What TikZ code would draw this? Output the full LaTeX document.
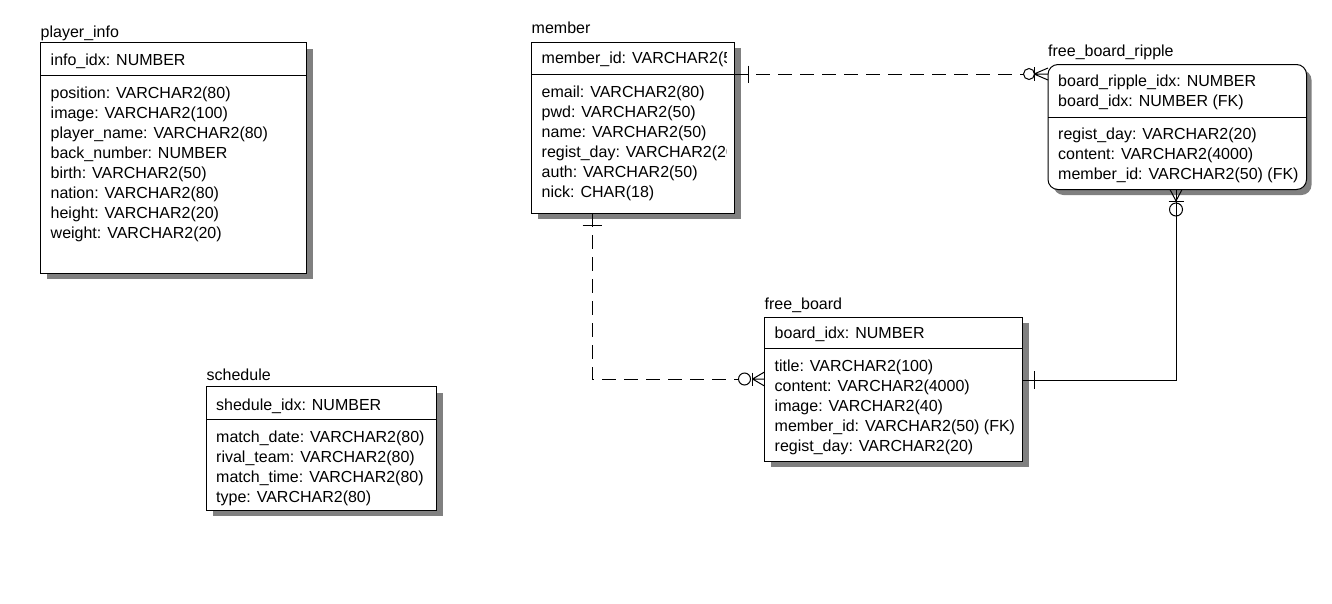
\documentclass[tikz,border=0pt]{standalone}
\usepackage{fontspec}
\setmainfont{Liberation Sans}
\usetikzlibrary{calc}
\begin{document}
\begin{tikzpicture}[x=1pt,y=-1pt,
  txt/.style={anchor=base west,inner sep=0pt,font=\fontsize{16}{20}\selectfont},
  ent/.style={draw,line width=1pt,fill=white,anchor=north west,inner sep=0pt,outer sep=0pt},
  shadowfill/.style={fill=black!50},
  sepline/.style={line width=1pt},
  rel/.style={line width=1pt},
  reldash/.style={line width=1pt,dash pattern=on 14pt off 8pt},
  ringw/.style={line width=1pt,fill=white},
  ring/.style={line width=1pt}]
\useasboundingbox (0,0) rectangle (1332,603);

% ---------- player_info ----------
\fill[shadowfill] (46.5,48.5) rectangle (312.5,279);
\node[ent,minimum width=266pt,minimum height=230.5pt] (pinfo) at (40.5,42.5) {};
\draw[sepline] (pinfo.west |- 0,75.5) -- (pinfo.east |- 0,75.5);
\node[txt] (pinfo-t) at (40.5,37) {player\_info};
\node[txt] (pinfo-k) at (50.5,65) {info\_idx: NUMBER};
\node[txt] (pinfo-a1) at (50.5,98) {position: VARCHAR2(80)};
\node[txt] (pinfo-a2) at (50.5,118) {image: VARCHAR2(100)};
\node[txt] (pinfo-a3) at (50.5,138) {player\_name: VARCHAR2(80)};
\node[txt] (pinfo-a4) at (50.5,158) {back\_number: NUMBER};
\node[txt] (pinfo-a5) at (50.5,178) {birth: VARCHAR2(50)};
\node[txt] (pinfo-a6) at (50.5,198) {nation: VARCHAR2(80)};
\node[txt] (pinfo-a7) at (50.5,218) {height: VARCHAR2(20)};
\node[txt] (pinfo-a8) at (50.5,238) {weight: VARCHAR2(20)};

% ---------- member ----------
\fill[shadowfill] (537.5,48) rectangle (741,218.5);
\node[ent,minimum width=202.5pt,minimum height=171pt] (member) at (531.5,42) {};
\draw[sepline] (member.west |- 0,74.5) -- (member.east |- 0,74.5);
\node[txt] (member-t) at (531.5,33) {member};
\begin{scope}
\clip (531.5,42) rectangle (726,213);
\node[txt] (member-k) at (541.5,63) {member\_id: VARCHAR2(50)};
\node[txt] (member-a1) at (541.5,97) {email: VARCHAR2(80)};
\node[txt] (member-a2) at (541.5,117) {pwd: VARCHAR2(50)};
\node[txt] (member-a3) at (541.5,137) {name: VARCHAR2(50)};
\node[txt] (member-a4) at (541.5,157) {regist\_day: VARCHAR2(20)};
\node[txt] (member-a5) at (541.5,177) {auth: VARCHAR2(50)};
\node[txt] (member-a6) at (541.5,197) {nick: CHAR(18)};
\end{scope}

% ---------- free_board_ripple ----------
\fill[shadowfill,rounded corners=10pt] (1053.5,70) rectangle (1311.5,195);
\node[ent,rounded corners=10pt,minimum width=258.5pt,minimum height=125pt] (ripple) at (1048,64.5) {};
\draw[sepline] (ripple.west |- 0,117.5) -- (ripple.east |- 0,117.5);
\node[txt] (ripple-t) at (1048,56.5) {free\_board\_ripple};
\node[txt] (ripple-k1) at (1058,86) {board\_ripple\_idx: NUMBER};
\node[txt] (ripple-k2) at (1058,106) {board\_idx: NUMBER (FK)};
\node[txt] (ripple-a1) at (1058,139.5) {regist\_day: VARCHAR2(20)};
\node[txt] (ripple-a2) at (1058,159.5) {content: VARCHAR2(4000)};
\node[txt] (ripple-a3) at (1058,179.5) {member\_id: VARCHAR2(50) (FK)};

% ---------- free_board ----------
\fill[shadowfill] (770.5,323) rectangle (1028.5,466.5);
\node[ent,minimum width=258pt,minimum height=144pt] (freeb) at (764.5,317) {};
\draw[sepline] (freeb.west |- 0,348.5) -- (freeb.east |- 0,348.5);
\node[txt] (freeb-t) at (764.5,309) {free\_board};
\node[txt] (freeb-k) at (774.5,338) {board\_idx: NUMBER};
\node[txt] (freeb-a1) at (774.5,371.5) {title: VARCHAR2(100)};
\node[txt] (freeb-a2) at (774.5,391.5) {content: VARCHAR2(4000)};
\node[txt] (freeb-a3) at (774.5,411.5) {image: VARCHAR2(40)};
\node[txt] (freeb-a4) at (774.5,431.5) {member\_id: VARCHAR2(50) (FK)};
\node[txt] (freeb-a5) at (774.5,451.5) {regist\_day: VARCHAR2(20)};

% ---------- schedule ----------
\fill[shadowfill] (212.5,392.5) rectangle (442.5,516);
\node[ent,minimum width=230pt,minimum height=124pt] (sched) at (206.5,386.5) {};
\draw[sepline] (sched.west |- 0,419) -- (sched.east |- 0,419);
\node[txt] (sched-t) at (206.5,380) {schedule};
\node[txt] (sched-k) at (216,410) {shedule\_idx: NUMBER};
\node[txt] (sched-a1) at (216,442) {match\_date: VARCHAR2(80)};
\node[txt] (sched-a2) at (216,462) {rival\_team: VARCHAR2(80)};
\node[txt] (sched-a3) at (216,482) {match\_time: VARCHAR2(80)};
\node[txt] (sched-a4) at (216,502) {type: VARCHAR2(80)};

% ---------- member -> free_board_ripple ----------
\coordinate (A1) at (member.east |- 0,74);
\coordinate (B1) at (ripple.west |- 0,74);
\draw[reldash] (A1) -- ($(B1)+(-24.5,0)$);
\draw[rel] ($(A1)+(14,-8.5)$) -- ($(A1)+(14,8.5)$);
\draw[ringw] ($(B1)+(-19,0)$) circle[radius=5.5pt];
\draw[rel] ($(B1)+(-14,-7)$) -- ($(B1)+(-14,7)$);
\draw[rel] ($(B1)+(-14,0)$) -- (B1)
  ($(B1)+(-14,0)$) -- ($(B1)+(0,-6)$)
  ($(B1)+(-14,0)$) -- ($(B1)+(0,6)$);

% ---------- member -> free_board ----------
\coordinate (A2) at ($(member.south west)+(60.5,0)$);
\coordinate (B2) at (freeb.west |- 0,379);
\draw[reldash] (A2) |- ($(B2)+(-26,0)$);
\draw[rel] ($(A2)+(-9.5,12.5)$) -- ($(A2)+(9.5,12.5)$);
\draw[ringw] ($(B2)+(-20,0)$) circle[radius=6pt];
\draw[rel] ($(B2)+(-12,-6.5)$) -- ($(B2)+(-12,6.5)$);
\draw[rel] ($(B2)+(-12,0)$) -- (B2)
  ($(B2)+(-12,0)$) -- ($(B2)+(0,-7)$)
  ($(B2)+(-12,0)$) -- ($(B2)+(0,7)$);

% ---------- free_board -> free_board_ripple ----------
\coordinate (A3) at (freeb.east |- 0,380);
\coordinate (B3) at ($(ripple.south west)+(128,0)$);
\draw[rel] (A3) -| (B3);
\draw[rel] ($(A3)+(11.5,-9)$) -- ($(A3)+(11.5,9)$);
\draw[ring] ($(B3)+(0,20)$) circle[radius=6.5pt];
\draw[rel] ($(B3)+(-7.5,11.5)$) -- ($(B3)+(7.5,11.5)$);
\draw[rel] ($(B3)+(0,11.5)$) -- ($(B3)+(-6,0)$)
  ($(B3)+(0,11.5)$) -- ($(B3)+(6,0)$);
\end{tikzpicture}
\end{document}
